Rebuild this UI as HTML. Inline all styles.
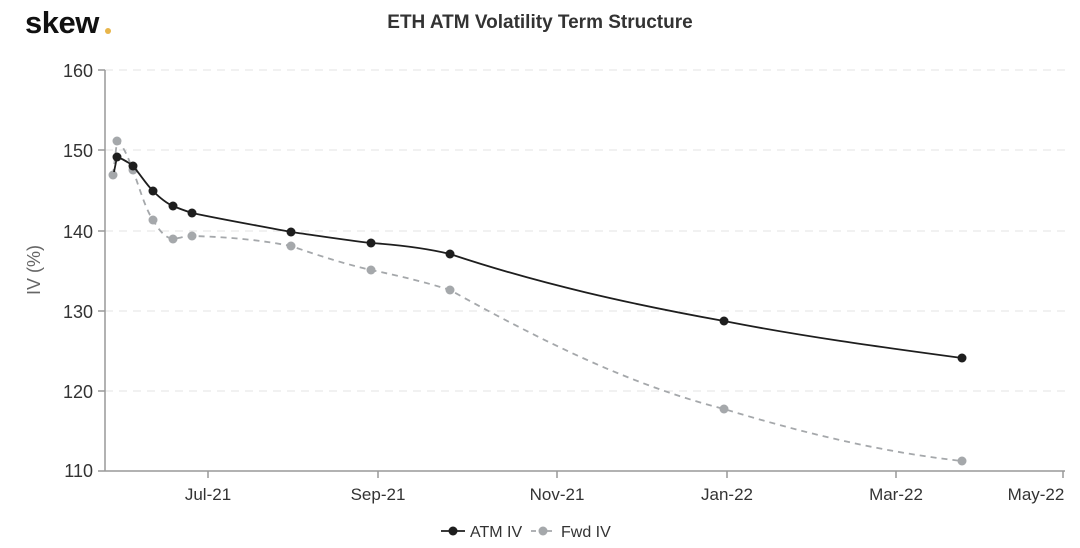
<!DOCTYPE html>
<html><head><style>
body{margin:0;background:#fff;width:1080px;height:543px;overflow:hidden}
text{font-family:"Liberation Sans",sans-serif}
</style></head><body>
<svg width="1080" height="543" xmlns="http://www.w3.org/2000/svg">
<text x="25" y="33" font-size="31" font-weight="bold" fill="#111" letter-spacing="-0.5">skew</text>
<circle cx="108" cy="31" r="3" fill="#e8b54a"/>
<text x="540" y="28" font-size="19" fill="#333" font-weight="bold" text-anchor="middle" style="font-weight:600">ETH ATM Volatility Term Structure</text>
<g stroke="#e3e3e3" stroke-dasharray="8,6" stroke-width="1">
<line x1="105" y1="70" x2="1065" y2="70"/><line x1="105" y1="150" x2="1065" y2="150"/>
<line x1="105" y1="231" x2="1065" y2="231"/><line x1="105" y1="311" x2="1065" y2="311"/>
<line x1="105" y1="391" x2="1065" y2="391"/>
</g>
<line x1="105" y1="70" x2="105" y2="471" stroke="#999" stroke-width="1.5"/>
<line x1="105" y1="471" x2="1065" y2="471" stroke="#999" stroke-width="1.5"/>
<g stroke="#999" stroke-width="1.5">
<line x1="98" y1="70" x2="105" y2="70"/><line x1="98" y1="150" x2="105" y2="150"/><line x1="98" y1="231" x2="105" y2="231"/><line x1="98" y1="311" x2="105" y2="311"/><line x1="98" y1="391" x2="105" y2="391"/><line x1="98" y1="471" x2="105" y2="471"/>
<line x1="208" y1="471" x2="208" y2="478"/><line x1="378" y1="471" x2="378" y2="478"/><line x1="557" y1="471" x2="557" y2="478"/><line x1="727" y1="471" x2="727" y2="478"/><line x1="896" y1="471" x2="896" y2="478"/><line x1="1063" y1="471" x2="1063" y2="478"/>
</g>
<g font-size="18" fill="#333" text-anchor="end">
<text x="93" y="77">160</text><text x="93" y="157">150</text><text x="93" y="238">140</text><text x="93" y="318">130</text><text x="93" y="398">120</text><text x="93" y="477">110</text>
</g>
<g font-size="17" fill="#333" text-anchor="middle">
<text x="208" y="500">Jul-21</text><text x="378" y="500">Sep-21</text><text x="557" y="500">Nov-21</text><text x="727" y="500">Jan-22</text><text x="896" y="500">Mar-22</text><text x="1036" y="500">May-22</text>
</g>
<text transform="translate(40,270) rotate(-90)" font-size="18" fill="#666" text-anchor="middle">IV (%)</text>
<path d="M113,175 L117,141 C124,146 128,158 133,170 C140,190 146,210 153,220 C160,232 166,238 173,239 C180,238 186,236 192,236 C230,237 260,240 291,246 C320,256 345,264 371,270 C400,276 425,282 450,290 C540,340 630,385 724,409 C800,432 880,452 962,461" fill="none" stroke="#a5a8ab" stroke-width="1.8" stroke-dasharray="6,5"/>
<g fill="#a5a8ab">
<circle cx="113" cy="175" r="4.5"/><circle cx="117" cy="141" r="4.5"/><circle cx="133" cy="170" r="4.5"/><circle cx="153" cy="220" r="4.5"/><circle cx="173" cy="239" r="4.5"/><circle cx="192" cy="236" r="4.5"/><circle cx="291" cy="246" r="4.5"/><circle cx="371" cy="270" r="4.5"/><circle cx="450" cy="290" r="4.5"/><circle cx="724" cy="409" r="4.5"/><circle cx="962" cy="461" r="4.5"/>
</g>
<path d="M114,172 L117,157 C123,159 128,162 133,166 C140,174 146,184 153,191 C160,198 166,203 173,206 C180,209 186,211 192,213 C225,220 260,226 291,232 C320,236 345,240 371,243 C400,245 425,248 450,254 C540,284 630,304 724,321 C800,336 880,347 962,358" fill="none" stroke="#1e1e1e" stroke-width="1.8"/>
<g fill="#1e1e1e">
<circle cx="117" cy="157" r="4.5"/><circle cx="133" cy="166" r="4.5"/><circle cx="153" cy="191" r="4.5"/><circle cx="173" cy="206" r="4.5"/><circle cx="192" cy="213" r="4.5"/><circle cx="291" cy="232" r="4.5"/><circle cx="371" cy="243" r="4.5"/><circle cx="450" cy="254" r="4.5"/><circle cx="724" cy="321" r="4.5"/><circle cx="962" cy="358" r="4.5"/>
</g>
<line x1="441" y1="531" x2="465" y2="531" stroke="#1e1e1e" stroke-width="1.8"/>
<circle cx="453" cy="531" r="4.5" fill="#1e1e1e"/>
<text x="470" y="537" font-size="16" fill="#333">ATM IV</text>
<line x1="531" y1="531" x2="555" y2="531" stroke="#a5a8ab" stroke-width="1.8" stroke-dasharray="5,3"/>
<circle cx="543" cy="531" r="4.5" fill="#a5a8ab"/>
<text x="561" y="537" font-size="16" fill="#333">Fwd IV</text>
</svg>
</body></html>
